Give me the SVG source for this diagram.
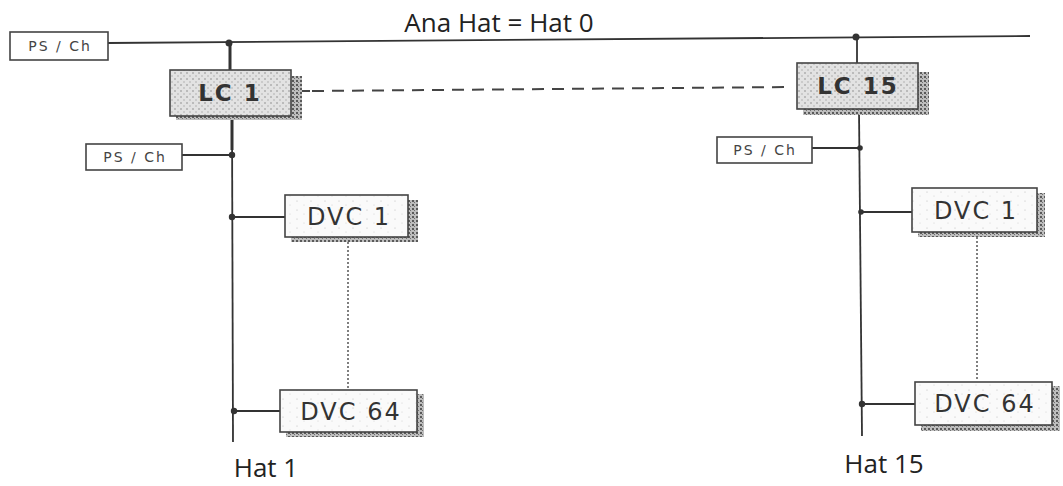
<svg xmlns="http://www.w3.org/2000/svg" width="1063" height="486" viewBox="0 0 1063 486">
  <defs>
    <pattern id="stipple" width="6" height="6" patternUnits="userSpaceOnUse">
      <rect width="6" height="6" fill="#e2e2e2"/>
      <circle cx="1" cy="1" r="0.8" fill="#8a8a8a"/>
      <circle cx="4" cy="4" r="0.7" fill="#a0a0a0"/>
    </pattern>
    <pattern id="shade" width="4" height="4" patternUnits="userSpaceOnUse">
      <rect width="4" height="4" fill="#bdbdbd"/>
      <rect x="0" y="0" width="2" height="2" fill="#5a5a5a"/>
      <rect x="2" y="2" width="1" height="1" fill="#707070"/>
    </pattern>
    <pattern id="speck" width="14" height="9" patternUnits="userSpaceOnUse">
      <rect width="14" height="9" fill="#fafafa"/>
      <circle cx="3" cy="3" r="0.6" fill="#bbb"/>
      <circle cx="10" cy="7" r="0.5" fill="#ccc"/>
    </pattern>
  </defs>
  <style>
    .ln { stroke: #333; stroke-width: 1.8; fill: none; }
    .thick { stroke: #333; stroke-width: 3; fill: none; }
    .dash { stroke: #444; stroke-width: 2; stroke-dasharray: 12 8; fill: none; }
    .dot { stroke: #555; stroke-width: 1.5; stroke-dasharray: 2 2; fill: none; }
    .joint { fill: #333; }
    .box { fill: #fff; stroke: #444; stroke-width: 1.6; }
    .lc { fill: url(#stipple); stroke: #444; stroke-width: 1.6; }
    .dvc { fill: url(#speck); stroke: #444; stroke-width: 1.6; }
    .shadow { fill: url(#shade); }
    .ps { font-family: "DejaVu Sans", "Liberation Sans", sans-serif; font-size: 14px; letter-spacing: 2px; fill: #444; text-anchor: middle; }
    .lct { font-family: "DejaVu Sans", "Liberation Sans", sans-serif; font-size: 23px; font-weight: bold; letter-spacing: 2px; fill: #333; text-anchor: middle; }
    .dvct { font-family: "DejaVu Sans", "Liberation Sans", sans-serif; font-size: 24px; letter-spacing: 2px; fill: #333; text-anchor: middle; }
    .hat { font-family: "Open Sans", "Liberation Sans", sans-serif; font-size: 26px; fill: #222; text-anchor: middle; }
  </style>

  <!-- bus and branch wiring -->
  <g id="connectors">
    <line class="ln" x1="108" y1="43" x2="1030" y2="36"/>
    <!-- left hat trunk -->
    <line class="thick" x1="230" y1="43" x2="230" y2="72"/>
    <line class="ln" x1="232" y1="116" x2="233" y2="442"/>
    <line class="thick" x1="232" y1="118" x2="232" y2="150"/>
    <line class="ln" x1="182" y1="155" x2="232" y2="155"/>
    <line class="ln" x1="232" y1="217" x2="286" y2="217"/>
    <line class="ln" x1="233" y1="411" x2="281" y2="411"/>
    <line class="dot" x1="348" y1="242" x2="348" y2="388"/>
    <!-- right hat trunk -->
    <line class="ln" x1="857" y1="38" x2="857" y2="64"/>
    <line class="ln" x1="859" y1="110" x2="862" y2="436"/>
    <line class="ln" x1="812" y1="148" x2="860" y2="148"/>
    <line class="ln" x1="861" y1="212" x2="913" y2="212"/>
    <line class="ln" x1="862" y1="404" x2="916" y2="404"/>
    <line class="dot" x1="977" y1="237" x2="977" y2="380"/>
    <!-- LC link -->
    <line class="ln" x1="300" y1="91" x2="310" y2="91"/>
    <line class="dash" x1="312" y1="91" x2="792" y2="87"/>
    <!-- junction dots -->
    <circle class="joint" cx="229" cy="43" r="3.5"/>
    <circle class="joint" cx="856" cy="37" r="3.5"/>
    <circle class="joint" cx="232" cy="155" r="3.2"/>
    <circle class="joint" cx="232" cy="217" r="3.2"/>
    <circle class="joint" cx="234" cy="411" r="3.2"/>
    <circle class="joint" cx="860" cy="148" r="2.8"/>
    <circle class="joint" cx="861" cy="212" r="2.8"/>
    <circle class="joint" cx="862" cy="404" r="3.2"/>
  </g>

  <text class="hat" x="499" y="32">Ana Hat = Hat 0</text>

  <g id="ps-top">
    <rect class="box" x="10" y="32" width="98" height="28"/>
    <text class="ps" x="60" y="51">PS / Ch</text>
  </g>

  <g id="lc1">
    <rect class="shadow" x="176" y="112" width="126" height="8"/>
    <rect class="shadow" x="290" y="76" width="12" height="44"/>
    <rect class="lc" x="170" y="70" width="121" height="46"/>
    <text class="lct" x="230" y="101">LC 1</text>
  </g>

  <g id="ps-left">
    <rect class="box" x="86" y="144" width="96" height="26"/>
    <text class="ps" x="135" y="162">PS / Ch</text>
  </g>

  <g id="dvc1-left">
    <rect class="shadow" x="291" y="236" width="127" height="6"/>
    <rect class="shadow" x="407" y="200" width="11" height="42"/>
    <rect class="dvc" x="285" y="195" width="123" height="42"/>
    <text class="dvct" x="349" y="225">DVC 1</text>
  </g>

  <g id="dvc64-left">
    <rect class="shadow" x="286" y="431" width="138" height="6"/>
    <rect class="shadow" x="416" y="394" width="8" height="43"/>
    <rect class="dvc" x="280" y="390" width="137" height="42"/>
    <text class="dvct" x="351" y="420">DVC 64</text>
  </g>

  <text class="hat" x="266" y="477">Hat 1</text>

  <g id="lc15">
    <rect class="shadow" x="803" y="108" width="126" height="7"/>
    <rect class="shadow" x="917" y="72" width="12" height="43"/>
    <rect class="lc" x="797" y="63" width="121" height="46"/>
    <text class="lct" x="858" y="94">LC 15</text>
  </g>

  <g id="ps-right">
    <rect class="box" x="717" y="137" width="95" height="26"/>
    <text class="ps" x="765" y="155">PS / Ch</text>
  </g>

  <g id="dvc1-right">
    <rect class="shadow" x="918" y="231" width="127" height="6"/>
    <rect class="shadow" x="1036" y="193" width="9" height="44"/>
    <rect class="dvc" x="912" y="188" width="125" height="44"/>
    <text class="dvct" x="976" y="219">DVC 1</text>
  </g>

  <g id="dvc64-right">
    <rect class="shadow" x="921" y="424" width="139" height="7"/>
    <rect class="shadow" x="1051" y="386" width="9" height="45"/>
    <rect class="dvc" x="915" y="382" width="137" height="43"/>
    <text class="dvct" x="985" y="412">DVC 64</text>
  </g>

  <text class="hat" x="884" y="473">Hat 15</text>
</svg>
